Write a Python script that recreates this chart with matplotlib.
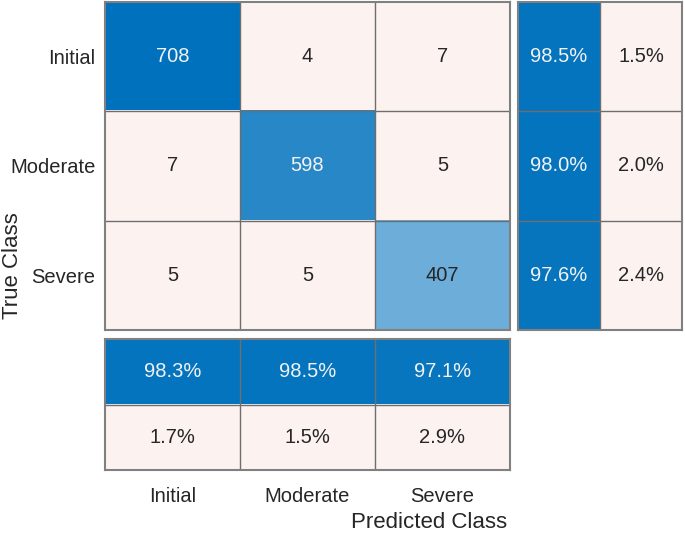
import matplotlib.pyplot as plt
import numpy as np

plt.rcParams['font.family'] = ['Liberation Sans', 'DejaVu Sans']

classes = ['Initial', 'Moderate', 'Severe']
counts = [[708, 4, 7],
          [7, 598, 5],
          [5, 5, 407]]
# row summary (true class): correct / wrong in %
row_correct = [98.5, 98.0, 97.6]
row_wrong = [1.5, 2.0, 2.4]
# column summary (predicted class): correct / wrong in %
col_correct = [98.3, 98.5, 97.1]
col_wrong = [1.7, 1.5, 2.9]

blue = np.array([0, 114, 189]) / 255
orange = np.array([217, 83, 25]) / 255
text_dark = '#262626'
text_light = '#f2f2f2'
grid_c = '#6e6e6e'


def blend(c, f):
    return 1 - f * (1 - c)


def draw_cells(ax, fracs, kinds, labels):
    nr, nc = len(fracs), len(fracs[0])
    rgb = np.zeros((nr, nc, 3))
    for i in range(nr):
        for j in range(nc):
            if kinds[i][j]:
                rgb[i, j] = blend(blue, fracs[i][j])
            else:
                rgb[i, j] = blend(orange, 0.065)
            col = text_light if (kinds[i][j] and fracs[i][j] > 0.7) else text_dark
            ax.text(j, i, labels[i][j], ha='center', va='center', fontsize=14.5, color=col)
    ax.imshow(rgb, aspect='auto', extent=(-0.5, nc - 0.5, nr - 0.5, -0.5))
    for k in range(1, nr):
        ax.axhline(k - 0.5, color=grid_c, lw=1)
    for k in range(1, nc):
        ax.axvline(k - 0.5, color=grid_c, lw=1)
    for s in ax.spines.values():
        s.set_color('#808080')
        s.set_linewidth(1.5)
    ax.tick_params(length=0, labelsize=14.5, labelcolor=text_dark)
    ax.set_xticks([])
    ax.set_yticks([])


fig = plt.figure(figsize=(6.85, 5.33), dpi=100)
W, H = 685, 533

cnt = np.array(counts)
ax = fig.add_axes([105 / W, 203 / H, 405 / W, 328 / H])
draw_cells(ax,
           [[cnt[i, j] / cnt.max() for j in range(3)] for i in range(3)],
           [[i == j for j in range(3)] for i in range(3)],
           [[str(cnt[i, j]) for j in range(3)] for i in range(3)])
ax.set_yticks(range(3), classes)
ax.tick_params(axis='y', pad=7)

ax_r = fig.add_axes([518 / W, 203 / H, 164 / W, 328 / H])
draw_cells(ax_r,
           [[row_correct[i] / 100, row_wrong[i] / 100] for i in range(3)],
           [[True, False] for i in range(3)],
           [['%.1f%%' % row_correct[i], '%.1f%%' % row_wrong[i]] for i in range(3)])

ax_c = fig.add_axes([105 / W, 63 / H, 405 / W, 131 / H])
draw_cells(ax_c,
           [[v / 100 for v in col_correct], [v / 100 for v in col_wrong]],
           [[True] * 3, [False] * 3],
           [['%.1f%%' % v for v in col_correct], ['%.1f%%' % v for v in col_wrong]])
ax_c.set_xticks(range(3), classes)
ax_c.tick_params(axis='x', pad=12)

fig.text(507 / W, 1 - 522 / H, 'Predicted Class', ha='right', va='center',
         fontsize=16, color=text_dark)
fig.text(12 / W, 1 - 266 / H, 'True Class', ha='center', va='center',
         rotation=90, fontsize=16, color=text_dark)

fig.savefig('out.png', dpi=100)
